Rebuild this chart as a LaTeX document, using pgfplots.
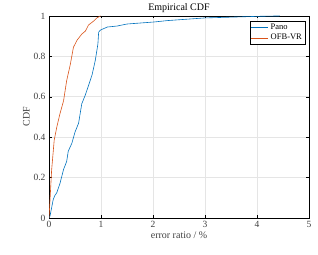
\documentclass[border=0pt]{standalone}
\usepackage{pgfplots}
\pgfplotsset{compat=1.18}
\usepackage{fontspec}
\setmainfont{Liberation Serif}
\definecolor{mblue}{HTML}{0072BD}
\definecolor{morange}{HTML}{D95319}
\begin{document}
\fontsize{10}{12}\selectfont
\begin{tikzpicture}
\begin{axis}[
  scale only axis,
  width=260pt, height=202pt,
  xmin=0, xmax=5, ymin=0, ymax=1,
  xtick={0,1,2,3,4,5}, ytick={0,0.2,0.4,0.6,0.8,1},
  yticklabels={0,0.2,0.4,0.6,0.8,1},
  tick align=inside,
  tick style={black, line width=0.4pt},
  major tick length=2.5pt,
  grid=major,
  grid style={gray!20, line width=0.5pt},
  axis line style={black, line width=0.5pt},
  /pgf/number format/assume math mode=true,
  ticklabel style={font=\fontsize{9.5}{11}\selectfont, text=black!75},
  title={Empirical CDF},
  title style={font=\fontsize{10}{12}\selectfont, yshift=-6pt},
  xlabel={error ratio / \%},
  ylabel={CDF},
  label style={font=\fontsize{10}{12}\selectfont, text=black!75},
  xlabel style={yshift=3pt},
  ylabel style={yshift=-3pt},
  legend style={at={(0.985,0.975)}, anchor=north east, draw=black, line width=0.4pt,
    font=\fontsize{8.5}{10}\selectfont, inner sep=1pt, row sep=-1pt, cells={anchor=west}},
  legend image post style={line width=0.6pt},
]
\addplot[mblue, line width=0.6pt] coordinates {
(0,0) (0.02,0.01) (0.05,0.05) (0.08,0.09) (0.11,0.11) (0.15,0.125) (0.21,0.17) (0.28,0.24) (0.34,0.28) (0.37,0.33)
(0.44,0.37) (0.50,0.425) (0.57,0.47) (0.63,0.565) (0.70,0.61) (0.76,0.655) (0.83,0.71) (0.89,0.78)
(0.94,0.86) (0.955,0.92) (0.99,0.93) (1.12,0.945) (1.31,0.95) (1.5,0.96) (2.02,0.97) (2.28,0.977)
(2.99,0.99) (3.5,0.994) (4.02,0.998) (4.44,1.0)
};
\addlegendentry{Pano}
\addplot[morange, line width=0.6pt] coordinates {
(0,0) (0.02,0.09) (0.05,0.235) (0.10,0.385) (0.15,0.45) (0.21,0.515) (0.28,0.58) (0.34,0.68)
(0.41,0.76) (0.47,0.845) (0.54,0.88) (0.63,0.91) (0.70,0.925) (0.76,0.955) (0.86,0.975) (0.92,0.99) (0.99,1.0)
};
\addlegendentry{OFB-VR}
\end{axis}
\path[use as bounding box] (-49pt,-36.5pt) rectangle (269pt,217.5pt);
\end{tikzpicture}
\end{document}
